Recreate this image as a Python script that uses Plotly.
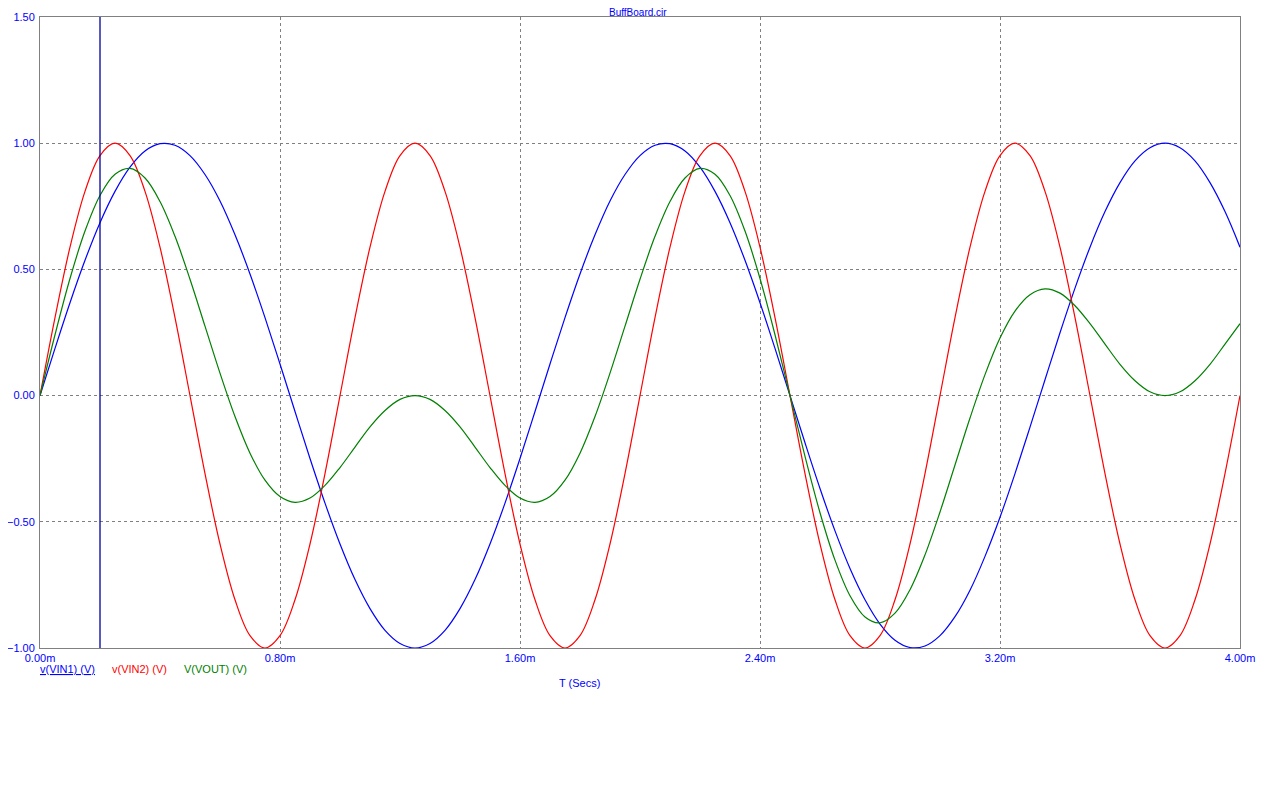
import plotly.graph_objects as go

# time in ms, 0.05 ms steps
time_ms = [round(k * 0.05, 2) for k in range(81)]

v_vin1 = [0.0, 0.187, 0.368, 0.536, 0.685, 0.809, 0.905, 0.969, 0.998, 0.992,
          0.951, 0.876, 0.771, 0.637, 0.482, 0.309, 0.125, -0.063, -0.249, -0.426,
          -0.588, -0.729, -0.844, -0.930, -0.982, -1.0, -0.982, -0.930, -0.844, -0.729,
          -0.588, -0.426, -0.249, -0.063, 0.125, 0.309, 0.482, 0.637, 0.771, 0.876,
          0.951, 0.992, 0.998, 0.969, 0.905, 0.809, 0.685, 0.536, 0.368, 0.187,
          0.0, -0.187, -0.368, -0.536, -0.685, -0.809, -0.905, -0.969, -0.998, -0.992,
          -0.951, -0.876, -0.771, -0.637, -0.482, -0.309, -0.125, 0.063, 0.249, 0.426,
          0.588, 0.729, 0.844, 0.930, 0.982, 1.0, 0.982, 0.930, 0.844, 0.729,
          0.588]

v_vin2 = [0.0, 0.309, 0.588, 0.809, 0.951, 1.0, 0.951, 0.809, 0.588, 0.309,
          0.0, -0.309, -0.588, -0.809, -0.951, -1.0, -0.951, -0.809, -0.588, -0.309,
          0.0, 0.309, 0.588, 0.809, 0.951, 1.0, 0.951, 0.809, 0.588, 0.309,
          0.0, -0.309, -0.588, -0.809, -0.951, -1.0, -0.951, -0.809, -0.588, -0.309,
          0.0, 0.309, 0.588, 0.809, 0.951, 1.0, 0.951, 0.809, 0.588, 0.309,
          0.0, -0.309, -0.588, -0.809, -0.951, -1.0, -0.951, -0.809, -0.588, -0.309,
          0.0, 0.309, 0.588, 0.809, 0.951, 1.0, 0.951, 0.809, 0.588, 0.309,
          0.0, -0.309, -0.588, -0.809, -0.951, -1.0, -0.951, -0.809, -0.588, -0.309,
          0.0]

v_vout = [0.0, 0.241, 0.464, 0.652, 0.793, 0.877, 0.900, 0.862, 0.769, 0.631,
          0.461, 0.275, 0.089, -0.083, -0.228, -0.335, -0.400, -0.423, -0.406, -0.356,
          -0.285, -0.204, -0.124, -0.059, -0.015, 0.0, -0.015, -0.059, -0.124, -0.204,
          -0.285, -0.356, -0.406, -0.423, -0.400, -0.335, -0.228, -0.083, 0.089, 0.275,
          0.461, 0.631, 0.769, 0.862, 0.900, 0.877, 0.793, 0.652, 0.464, 0.241,
          0.0, -0.241, -0.464, -0.652, -0.793, -0.877, -0.900, -0.862, -0.769, -0.631,
          -0.461, -0.275, -0.089, 0.083, 0.228, 0.335, 0.400, 0.423, 0.406, 0.356,
          0.285, 0.204, 0.124, 0.059, 0.015, 0.0, 0.015, 0.059, 0.124, 0.204,
          0.285]

x_tick_vals = [0.0, 0.8, 1.6, 2.4, 3.2, 4.0]
x_tick_text = ["0.00m", "0.80m", "1.60m", "2.40m", "3.20m", "4.00m"]
y_tick_vals = [-1.0, -0.5, 0.0, 0.5, 1.0, 1.5]
y_tick_text = ["\u22121.00", "\u22120.50", "0.00", "0.50", "1.00", "1.50"]
cursor_t = 0.2

series = [
    ("v(VIN1) (V)", v_vin1, "#0000ff"),
    ("v(VIN2) (V)", v_vin2, "#ff0000"),
    ("V(VOUT) (V)", v_vout, "#008000"),
]

FONT = "Liberation Sans"
OFF = 8  # default page body margin
W, H = 1258, 778
# target plot area in page pixels: x 40..1240, y 17..648
ML = 40 - OFF
MT = 17 - OFF
MR = W - (1240 - OFF)
MB = H - (648 - OFF)

fig = go.Figure()
for name, vals, col in series:
    fig.add_trace(go.Scatter(x=time_ms, y=vals, mode="lines", name=name,
                             line=dict(color=col, width=1.2, shape="spline"),
                             showlegend=False))

fig.add_shape(type="line", xref="x", yref="paper", x0=cursor_t, x1=cursor_t,
              y0=0, y1=1, line=dict(color="#0000a0", width=1.3))

fig.update_layout(
    width=W, height=H,
    margin=dict(l=ML, r=MR, t=MT, b=MB, autoexpand=False),
    paper_bgcolor="white", plot_bgcolor="white",
    font=dict(family=FONT, size=11, color="#0000ff"),
    xaxis=dict(range=[0, 4], tickvals=x_tick_vals, ticktext=x_tick_text,
               automargin=False,
               showgrid=True, gridcolor="#808080", griddash="3px,3px", gridwidth=1,
               showline=True, linecolor="#808080", linewidth=1, mirror=True,
               zeroline=False, ticks="", ticklen=0,
               tickfont=dict(family=FONT, size=11, color="#0000ff")),
    yaxis=dict(range=[-1.0, 1.5], tickvals=y_tick_vals, ticktext=y_tick_text,
               automargin=False,
               showgrid=True, gridcolor="#808080", griddash="3px,3px", gridwidth=1,
               showline=True, linecolor="#808080", linewidth=1, mirror=True,
               zeroline=False, ticks="", ticklabelstandoff=2,
               tickfont=dict(family=FONT, size=11, color="#0000ff")),
)

plot_w = W - ML - MR
plot_h = H - MT - MB

def px_x(px):
    return (px - OFF - ML) / plot_w

def px_y(py):
    return (H - MB - (py - OFF)) / plot_h

# title (sits just above the top frame line)
fig.add_annotation(text="BuffBoard.cir", xref="paper", yref="paper",
                   x=px_x(638), y=1, xanchor="center", yanchor="bottom",
                   yshift=-2, borderpad=0,
                   showarrow=False, font=dict(family=FONT, size=10, color="#0000ff"))
# legend texts
leg_x = [39, 111, 183]
for (name, vals, col), lx in zip(series, leg_x):
    txt = f"<u>{name}</u>" if lx == leg_x[0] else name
    fig.add_annotation(text=txt, xref="paper", yref="paper",
                       x=px_x(lx), y=px_y(669), xanchor="left", yanchor="middle",
                       showarrow=False, borderpad=0,
                       font=dict(family=FONT, size=11, color=col))
# x-axis title
fig.add_annotation(text="T (Secs)", xref="paper", yref="paper",
                   x=px_x(579), y=px_y(683), xanchor="center", yanchor="middle",
                   showarrow=False, font=dict(family=FONT, size=11, color="#0000ff"))

fig.write_html("out.html")
